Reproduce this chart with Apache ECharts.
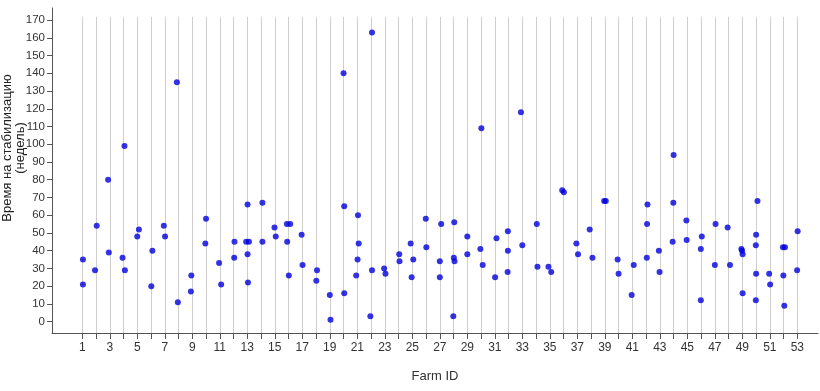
<!DOCTYPE html>
<html>
<head>
<meta charset="utf-8">
<script src="https://cdn.jsdelivr.net/npm/echarts@6/dist/echarts.min.js"></script>
<style>
html,body{margin:0;padding:0;background:#fff;}
#chart{width:820px;height:391px;}
</style>
</head>
<body>
<div id="chart"></div>
<script>
// Farm IDs (gridlines / ticks) and labelled ticks
var farmTicks = [1,2,3,4,5,6,7,8,9,10,11,12,13,14,15,16,17,18,19,20,21,22,23,24,25,26,27,28,29,30,31,32,33,34,35,36,37,38,39,40,41,42,43,44,45,46,47,48,49,50,51,52,53];
var farmLabels = [1,3,5,7,9,11,13,15,17,19,21,23,25,27,29,31,33,35,37,39,41,43,45,47,49,51,53];
var yTicks = [0,10,20,30,40,50,60,70,80,90,100,110,120,130,140,150,160,170];

// Observations: jittered farm position and weeks to stabilisation
var farmPos = [
  1.05,1.05, 2.05,1.93, 2.88,2.93, 4.07,3.93,4.1, 5.0,5.12, 6.1,6.02, 6.93,7.02, 7.88,7.95,
  8.93,8.9, 10.0,9.95, 10.95,11.1, 12.07,12.05, 13.02,12.92,13.12,13.02,13.05, 14.1,14.1,
  14.98,15.07, 15.88,16.12,15.9,16.02, 16.95,17.02, 18.07,18.02, 19.0,19.05, 20.05,20.05,20.0,
  21.05,21.1,21.02,20.92, 22.07,21.95,22.07, 22.95,23.05, 24.05,24.07, 24.88,25.07,24.95,
  25.98,26.02, 27.1,27.0,27.0, 28.05,28.02,28.07,27.98, 29.0,29.0, 29.95,30.12,30.02,
  31.12,31.02, 31.95,31.95,31.93, 33.0,32.9, 34.05,34.1, 34.9,35.1, 35.9,36.02, 36.93,37.05,
  37.9,38.1, 38.95,39.07, 39.93,40.0, 41.1,40.95, 42.1,42.07,42.05, 42.93,42.98,
  43.98,43.93,44.0, 44.93,44.95, 46.05,45.98,45.98, 47.05,47.0, 47.93,48.1,
  48.93,48.98,49.02,49.02, 50.1,50.0,49.98,50.0,49.98, 50.95,51.02, 51.95,52.1,51.98,52.05,
  53.02,52.98
];
var weeks = [
  35,21, 54,29, 80,39, 99,36,29, 48,52, 40,20, 54,48, 135,11,
  26,17, 58,44, 33,21, 45,36, 66,45,45,38,22, 67,45,
  53,48, 55,55,45,26, 49,32, 29,23, 15,1, 65,16,140,
  60,44,35,26, 29,3,163, 30,27, 38,34, 44,35,25,
  58,42, 55,34,25, 56,36,34,3, 48,38, 41,32,109,
  47,25, 51,40,28, 43,118, 55,31, 31,28, 74,73, 44,38,
  52,36, 68,68, 35,27, 32,15, 66,55,36, 40,28,
  67,45,94, 57,46, 48,41,12, 55,32, 53,32,
  41,40,38,16, 68,49,43,27,12, 27,21, 42,42,26,9,
  51,29
];

var points = farmPos.map(function (x, i) { return [x, weeks[i]]; });

var yMin = -6.4, yMax = 176.8, gridTop = 171.8;
var gridLines = farmTicks.map(function (v) {
  return [{coord: [v, gridTop]}, {coord: [v, yMin]}];
});

var chart = echarts.init(document.getElementById('chart'), null, {renderer: 'canvas'});
var font = 'Liberation Sans, Arial, sans-serif';
chart.setOption({
  animation: false,
  backgroundColor: '#ffffff',
  grid: {left: 52, right: 2, top: 8, bottom: 58},
  xAxis: {
    type: 'value', min: -1.2, max: 54.5,
    name: 'Farm ID', nameLocation: 'middle', nameGap: 37,
    nameTextStyle: {fontFamily: font, fontSize: 13, color: '#333'},
    axisLine: {show: true, onZero: false, lineStyle: {color: '#555', width: 1}},
    axisTick: {show: true, length: 6, customValues: farmTicks, lineStyle: {color: '#555'}},
    axisLabel: {customValues: farmLabels, fontFamily: font, fontSize: 12, color: '#333', margin: 9},
    splitLine: {show: false}
  },
  yAxis: {
    type: 'value', min: yMin, max: yMax,
    axisLine: {show: true, onZero: false, lineStyle: {color: '#555', width: 1}},
    axisTick: {show: true, length: 5, customValues: yTicks, lineStyle: {color: '#555'}},
    axisLabel: {customValues: yTicks, fontFamily: font, fontSize: 11.5, color: '#333', margin: 7},
    splitLine: {show: false}
  },
  graphic: [{
    type: 'text', x: 14, y: 148, rotation: Math.PI / 2,
    style: {
      text: 'Время на стабилизацию\n(недель)',
      fontFamily: font, fontSize: 13, fill: '#222',
      align: 'center', verticalAlign: 'middle', lineHeight: 13
    }
  }],
  series: [{
    type: 'scatter', data: [], z: 1, silent: true,
    markLine: {
      z: 1, silent: true, symbol: ['none', 'none'], label: {show: false},
      lineStyle: {color: '#cfcfcf', width: 1, type: 'solid'},
      emphasis: {disabled: true},
      data: gridLines
    }
  }, {
    type: 'scatter', z: 5,
    symbol: 'circle', symbolSize: 6,
    itemStyle: {color: '#0000dd'},
    data: points
  }]
});
</script>
</body>
</html>
